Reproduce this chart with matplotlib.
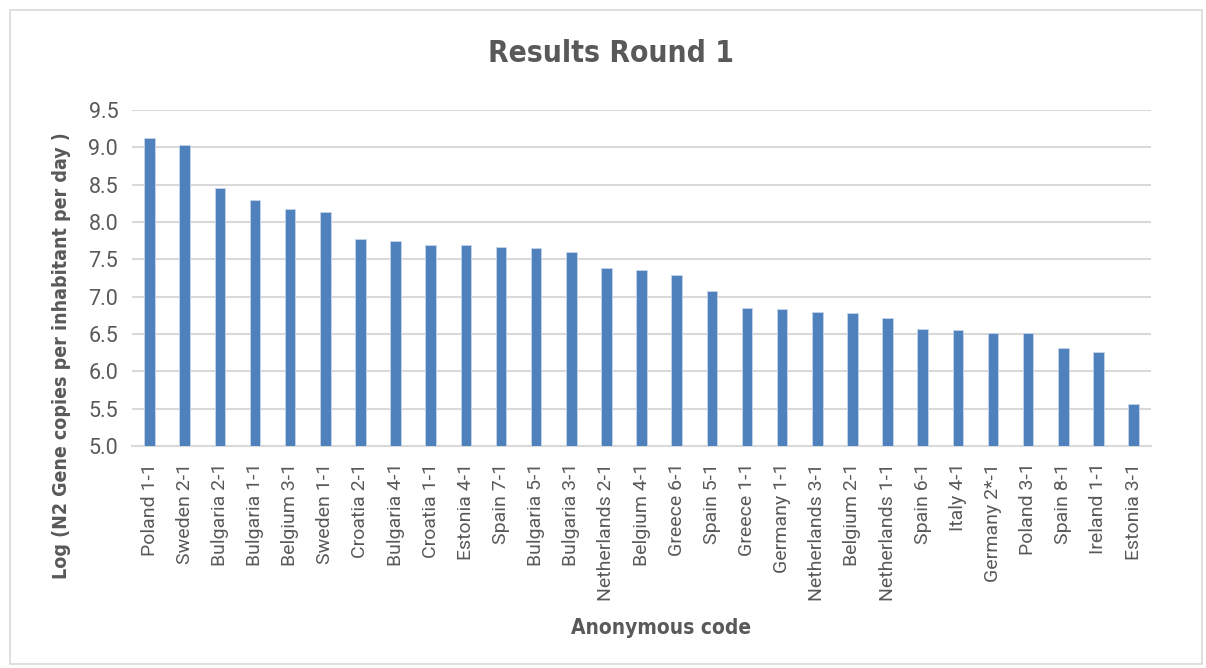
import matplotlib
matplotlib.use('Agg')
import matplotlib.pyplot as plt
from matplotlib.patches import Rectangle
from matplotlib import font_manager

codes = ['Poland 1-1', 'Sweden 2-1', 'Bulgaria 2-1', 'Bulgaria 1-1', 'Belgium 3-1',
         'Sweden 1-1', 'Croatia 2-1', 'Bulgaria 4-1', 'Croatia 1-1', 'Estonia 4-1',
         'Spain 7-1', 'Bulgaria 5-1', 'Bulgaria 3-1', 'Netherlands 2-1', 'Belgium 4-1',
         'Greece 6-1', 'Spain 5-1', 'Greece 1-1', 'Germany 1-1', 'Netherlands 3-1',
         'Belgium 2-1', 'Netherlands 1-1', 'Spain 6-1', 'Italy 4-1', 'Germany 2*-1',
         'Poland 3-1', 'Spain 8-1', 'Ireland 1-1', 'Estonia 3-1']
log_values = [9.12, 9.03, 8.45, 8.30, 8.18, 8.13, 7.77, 7.75, 7.69, 7.69,
              7.67, 7.65, 7.60, 7.39, 7.36, 7.29, 7.07, 6.85, 6.84, 6.79,
              6.78, 6.71, 6.57, 6.55, 6.52, 6.52, 6.31, 6.26, 5.56]
y_ticks = [5.0, 5.5, 6.0, 6.5, 7.0, 7.5, 8.0, 8.5, 9.0, 9.5]

text_grey = '#595959'
tick_font = ['Roboto', 'DejaVu Sans']

# pick a condensed bold face if one is around
names = {f.name for f in font_manager.fontManager.ttflist}
if 'Liberation Sans Narrow' in names:
    bold_font = ['Liberation Sans Narrow', 'DejaVu Sans']
elif 'DejaVu Sans Condensed' in names:
    bold_font = ['DejaVu Sans Condensed', 'DejaVu Sans']
else:
    bold_font = ['DejaVu Sans']

fig = plt.figure(figsize=(12.06, 6.68), dpi=100)
ax = fig.add_axes([0.1095, 0.3323, 0.845, 0.503])

# outer chart border
fig.patches.append(Rectangle((10 / 1206, 4 / 668), 1192 / 1206, 654 / 668,
                             transform=fig.transFigure, fill=False,
                             edgecolor='#D9D9D9', linewidth=1.2))

x = range(len(codes))
ax.bar(x, [v - 5.0 for v in log_values], bottom=5.0, width=0.3,
       color='#4F81BD', edgecolor='#C6D4E8', linewidth=0.6, zorder=3)

ax.set_xlim(-0.5, len(codes) - 0.5)
ax.set_ylim(5.0, 9.5)
ax.set_yticks(y_ticks)
ax.set_yticklabels([f'{t:.1f}' for t in y_ticks], fontsize=15.5,
                   color=text_grey, family=tick_font)
ax.set_xticks(list(x))
ax.set_xticklabels(codes, rotation=90, fontsize=14, color=text_grey,
                   family=tick_font)
ax.tick_params(axis='both', length=0)
ax.tick_params(axis='x', pad=12)
ax.tick_params(axis='y', pad=10)

ax.grid(axis='y', color='#D9D9D9', linewidth=1.5, zorder=0)
for side in ['top', 'right', 'left']:
    ax.spines[side].set_visible(False)
ax.spines['bottom'].set_color('#D9D9D9')
ax.spines['bottom'].set_linewidth(1.5)

title_style = dict(fontweight='bold', color=text_grey, family=bold_font,
                   fontstretch='condensed')
fig.text(611 / 1206, 1 - 53 / 668, 'Results Round 1', ha='center', va='center',
         fontsize=21.5, **title_style)
fig.text(661 / 1206, 1 - 628 / 668, 'Anonymous code', ha='center', va='center',
         fontsize=15, **title_style)
fig.text(62 / 1206, 1 - 356 / 668, 'Log (N2 Gene copies per inhabitant per day )',
         ha='center', va='center', rotation=90, fontsize=14, **title_style)

fig.savefig('out.png', dpi=100)
